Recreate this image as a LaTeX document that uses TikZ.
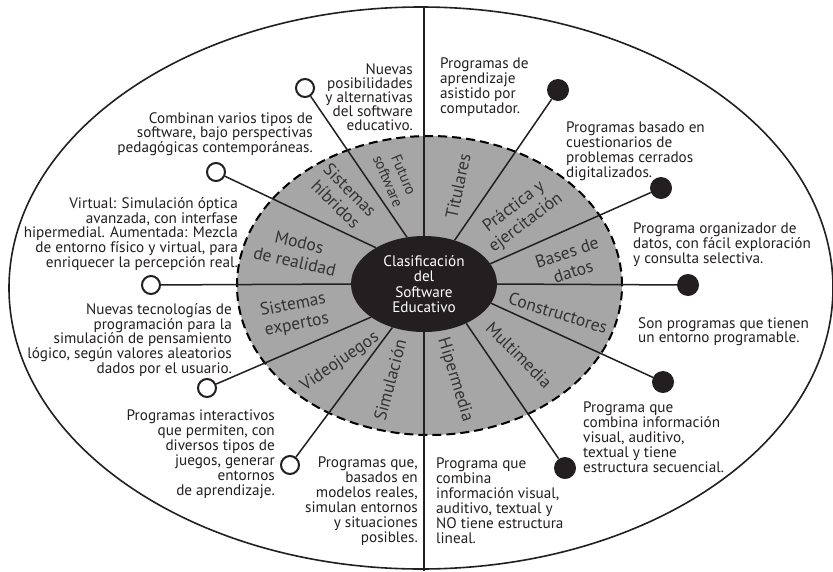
\documentclass[tikz,border=0pt]{standalone}
\usepackage{fontspec}
\setmainfont{PT Sans}
\usetikzlibrary{shapes.geometric}
\definecolor{seggray}{RGB}{166,166,166}
\definecolor{ink}{RGB}{35,31,32}
\begin{document}
\begin{tikzpicture}[x=1pt,y=-1pt,
	desc/.style={font=\fontsize{15.2}{14.9}\selectfont,inner sep=0pt,text=ink},
	lefttext/.style={desc,align=right,anchor=north east},
	righttext/.style={desc,align=left,anchor=north west},
	seg/.style={font=\fontsize{17.5}{20}\selectfont,align=center,inner sep=0pt,text=black!80},
	opendot/.style={circle,draw=ink,fill=white,line width=2pt,minimum size=18pt,inner sep=0pt},
	fulldot/.style={circle,fill=ink,minimum size=22pt,inner sep=0pt},
	spoke/.style={line width=1.5pt,draw=ink}]
	\useasboundingbox (0,0) rectangle (833,571);
	\fill[white] (0,0) rectangle (833,571);
	% outer frame and gray ring
	\draw[line width=1.6pt,ink] (421,288) ellipse [x radius=412pt, y radius=281pt];
	\draw[fill=seggray,line width=2pt,dash pattern=on 9pt off 5pt] (429.5,285.5) ellipse [x radius=192.5pt, y radius=149.5pt];
	\coordinate (vtop) at (424,7);
	\coordinate (vbot) at (424,571);
	% centre
	\node[ellipse,fill=ink,minimum width=146pt,minimum height=96pt,inner sep=0pt,text=white,align=center,
		font=\fontsize{15.2}{15.5}\selectfont] (hub) at (424,284) {Clasificación\\del\\Software\\Educativo};
	% end dots
	\node[opendot] (o1) at (305,88) {};
	\node[opendot] (o2) at (216,172) {};
	\node[opendot] (o3) at (151,285) {};
	\node[opendot] (o4) at (207,388) {};
	\node[opendot] (o5) at (290,465) {};
	\node[fulldot] (f1) at (558,90) {};
	\node[fulldot] (f2) at (661,188) {};
	\node[fulldot] (f3) at (688,285) {};
	\node[fulldot] (f4) at (663,382) {};
	\node[fulldot] (f5) at (565,468) {};
	% spokes
	\draw[spoke] (vtop) -- (hub);
	\draw[spoke] (hub) -- (vbot);
	\draw[spoke] (hub.110) -- (o1);
	\draw[spoke] (hub.143) -- (o2);
	\draw[spoke] (hub.180) -- (o3);
	\draw[spoke] (hub.212) -- (o4);
	\draw[spoke] (hub.234) -- (o5);
	\draw[spoke] (hub.55) -- (f1);
	\draw[spoke] (hub.17) -- (f2);
	\draw[spoke] (hub.0) -- (f3);
	\draw[spoke] (hub.-16) -- (f4);
	\draw[spoke] (hub.-43) -- (f5);
	% ring labels
	\node[seg,rotate=-67,font=\fontsize{15}{17}\selectfont] (futuro) at (396,178) {Futuro\\software};
	\node[seg,rotate=-45] (hibridos) at (343,197) {Sistemas\\híbridos};
	\node[seg,rotate=-13] (modos) at (297,252) {Modos\\de realidad};
	\node[seg,rotate=11] (expertos) at (295,315) {Sistemas\\expertos};
	\node[seg,rotate=35] (videojuegos) at (340,362) {Videojuegos};
	\node[seg,rotate=75] (simulacion) at (390,380) {Simulación};
	\node[seg,rotate=-73] (hipermedia) at (455,380) {Hipermedia};
	\node[seg,rotate=-45] (multimedia) at (519,355) {Multimedia};
	\node[seg,rotate=-17] (constructores) at (558,313) {Constructores};
	\node[seg,rotate=18] (bases) at (570,262) {Bases de\\datos};
	\node[seg,rotate=37] (practica) at (520,215) {Práctica y\\ejercitación};
	\node[seg,rotate=78] (titulares) at (458,186) {Titulares};
	% descriptions, left
	\node[lefttext,font=\fontsize{15.2}{14}\selectfont] (t1) at (413,63) {Nuevas\\posibilidades\\y alternativas\\del software\\educativo.};
	\node[lefttext] (t2) at (313,112) {Combinan varios tipos de\\software, bajo perspectivas\\pedagógicas contemporáneas.};
	\node[lefttext] (t3) at (238,197) {Virtual: Simulación óptica\\avanzada, con interfase\\hipermedial. Aumentada: Mezcla\\de entorno físico y virtual, para\\enriquecer la percepción real.};
	\node[lefttext] (t4) at (232,303) {Nuevas tecnologías de\\programación para la\\simulación de pensamiento\\lógico, según valores aleatorios\\dados por el usuario.};
	\node[lefttext] (t5) at (275,410) {Programas interactivos\\que permiten, con\\diversos tipos de\\juegos, generar\\entornos\\de aprendizaje.};
	\node[lefttext] (t6) at (418,457) {Programas que,\\basados en\\modelos reales,\\simulan entornos\\y situaciones\\posibles.};
	% descriptions, right
	\node[righttext] (r1) at (440,58) {Programas de\\aprendizaje\\asistido por\\computador.};
	\node[righttext] (r2) at (566,122) {Programas basado en\\cuestionarios de\\problemas cerrados\\digitalizados.};
	\node[righttext] (r3) at (633,223) {Programa organizador de\\datos, con fácil exploración\\y consulta selectiva.};
	\node[righttext] (r4) at (638,317) {Son programas que tienen\\un entorno programable.};
	\node[righttext] (r5) at (583,402) {Programa que\\combina información\\visual, auditivo,\\textual y tiene\\estructura secuencial.};
	\node[righttext] (r6) at (436,458) {Programa que\\combina\\información visual,\\auditivo, textual y\\NO tiene estructura\\lineal.};
\end{tikzpicture}
\end{document}
